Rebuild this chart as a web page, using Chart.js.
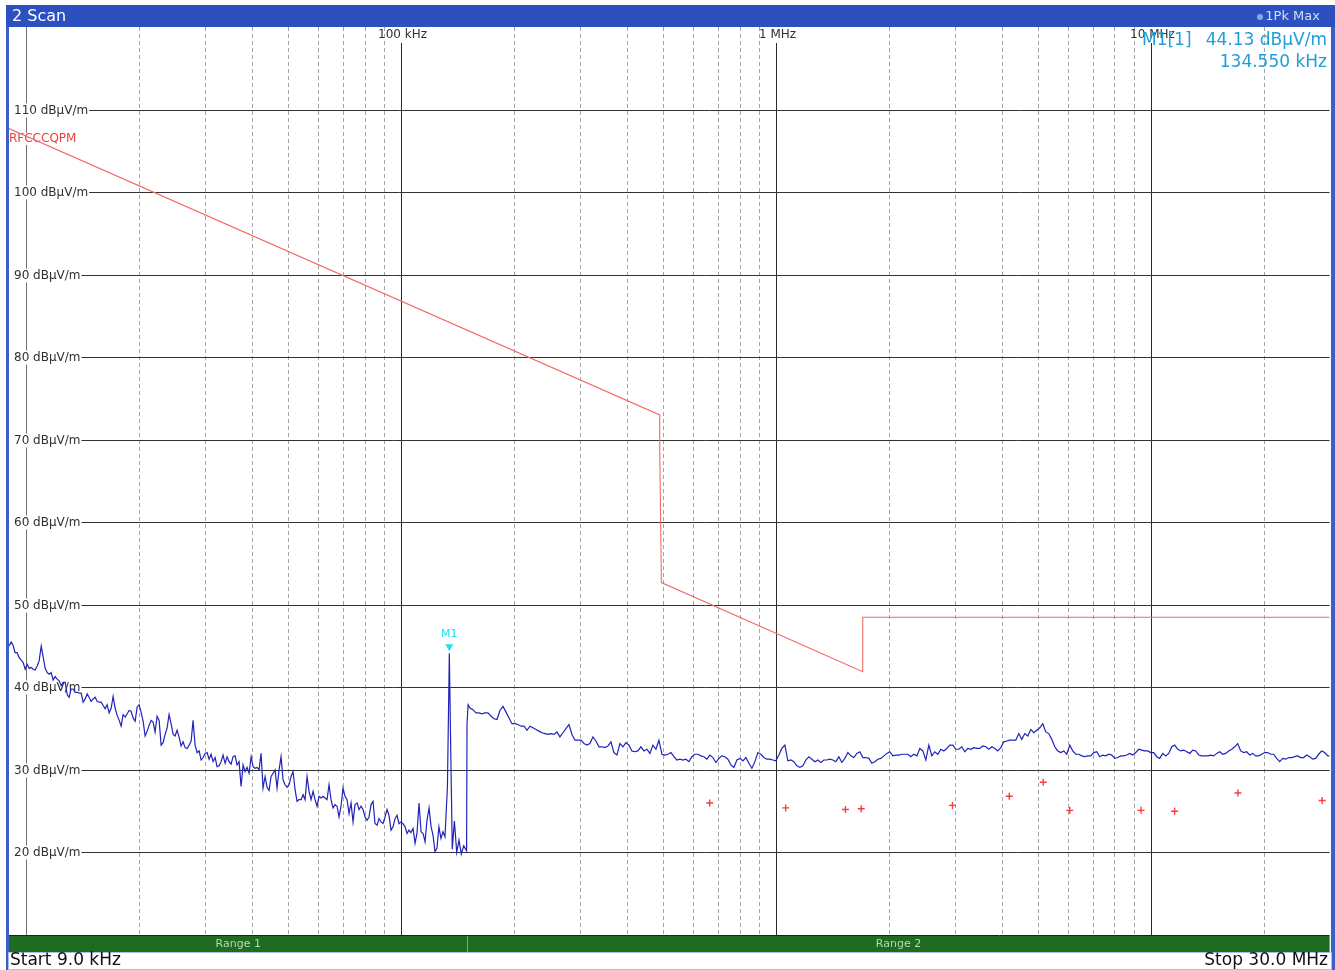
<!DOCTYPE html>
<html>
<head>
<meta charset="utf-8">
<script src="https://cdn.jsdelivr.net/npm/chart.js@4/dist/chart.umd.min.js"></script>
<style>
  html, body { margin: 0; padding: 0; background: #ffffff; }
  canvas { display: block; }
</style>
</head>
<body>
<canvas id="scan" width="1335" height="970"></canvas>
<script>
// ---- Range 1 (9 kHz .. 150 kHz): frequency in kHz, level in dBµV/m ----
const range1Freq = [
  9.01, 9.12, 9.23, 9.34, 9.46, 9.58, 9.70, 9.82, 9.94, 10.06,
  10.19, 10.32, 10.44, 10.57, 10.70, 10.83, 10.97, 11.10, 11.24, 11.38,
  11.52, 11.66, 11.80, 11.95, 12.10, 12.25, 12.40, 12.55, 12.71, 12.87,
  13.02, 13.18, 13.35, 13.51, 13.68, 13.85, 14.02, 14.19, 14.37, 14.55,
  14.72, 14.90, 15.09, 15.28, 15.47, 15.66, 15.85, 16.05, 16.24, 16.44,
  16.65, 16.86, 17.06, 17.27, 17.49, 17.71, 17.92, 18.14, 18.37, 18.60,
  18.82, 19.05, 19.29, 19.53, 19.77, 20.01, 20.26, 20.51, 20.77, 21.03,
  21.28, 21.54, 21.81, 22.08, 22.35, 22.63, 22.91, 23.19, 23.48, 23.77,
  24.06, 24.36, 24.66, 24.96, 25.27, 25.58, 25.90, 26.22, 26.55, 26.88,
  27.21, 27.55, 27.88, 28.22, 28.58, 28.93, 29.29, 29.65, 30.02, 30.39,
  30.76, 31.14, 31.53, 31.92, 32.31, 32.71, 33.11, 33.52, 33.94, 34.36,
  34.78, 35.21, 35.65, 36.09, 36.53, 36.98, 37.44, 37.90, 38.37, 38.84,
  39.33, 39.82, 40.30, 40.80, 41.31, 41.82, 42.33, 42.85, 43.39, 43.93,
  44.46, 45.01, 45.57, 46.13, 46.70, 47.28, 47.86, 48.45, 49.05, 49.66,
  50.27, 50.89, 51.52, 52.16, 52.80, 53.45, 54.12, 54.79, 55.46, 56.15,
  56.84, 57.54, 58.26, 58.98, 59.70, 60.44, 61.19, 61.95, 62.71, 63.48,
  64.27, 65.06, 65.87, 66.68, 67.51, 68.34, 69.18, 70.03, 70.90, 71.78,
  72.67, 73.57, 74.47, 75.39, 76.33, 77.27, 78.22, 79.19, 80.17, 81.16,
  82.16, 83.18, 84.21, 85.25, 86.30, 87.37, 88.45, 89.54, 90.64, 91.76,
  92.90, 94.05, 95.21, 96.39, 97.58, 98.79, 100.0, 101.2, 102.5, 103.8,
  105.0, 106.3, 107.7, 109.0, 110.3, 111.7, 113.1, 114.5, 115.9, 117.3,
  118.8, 120.3, 121.7, 123.2, 124.7, 126.2, 127.8, 129.4, 131.0,
  133.0, 134.55, 135.6, 137.0, 138.8, 140.8, 142.8, 144.8, 147.0, 149.6
];
const range1Level = [
  45.0, 45.5, 45.1, 44.2, 44.2, 43.6, 43.3, 43.0, 42.2, 42.8,
  42.3, 42.4, 42.2, 42.1, 42.6, 43.2, 45.0, 43.7, 42.3, 41.8,
  41.6, 41.8, 40.9, 41.3, 41.0, 40.8, 40.2, 40.6, 40.6, 39.1,
  38.8, 39.8, 39.8, 39.4, 39.4, 39.3, 39.3, 38.2, 38.6, 39.2,
  38.8, 38.3, 38.6, 38.8, 38.3, 38.2, 38.2, 37.8, 37.4, 37.9,
  36.9, 37.5, 38.9, 37.5, 36.6, 36.0, 35.3, 36.7, 36.4, 36.8,
  37.2, 37.1, 36.3, 35.9, 37.6, 37.9, 37.0, 35.9, 34.1, 34.7,
  35.4, 36.0, 35.8, 34.6, 36.5, 36.0, 33.0, 33.3, 34.3, 35.1,
  36.7, 35.6, 34.3, 34.1, 34.8, 34.0, 32.9, 33.4, 32.7, 32.6,
  33.0, 33.5, 36.0, 33.0, 32.1, 32.3, 31.2, 31.5, 32.0, 32.1,
  31.3, 31.9, 31.0, 31.5, 30.4, 30.5, 31.0, 31.8, 30.8, 31.6,
  31.0, 30.7, 31.6, 31.7, 30.6, 31.0, 28.0, 30.6, 29.8, 30.3,
  29.6, 31.6, 30.4, 30.2, 30.3, 30.0, 32.0, 27.8, 29.2, 27.9,
  27.5, 29.2, 29.6, 30.0, 27.8, 30.0, 31.6, 28.8, 28.2, 27.9,
  28.2, 29.2, 29.8, 27.6, 26.2, 26.4, 26.4, 27.0, 26.4, 29.2,
  27.4, 26.4, 27.4, 26.4, 25.6, 26.8, 26.6, 26.8, 26.6, 26.4,
  28.2, 26.4, 25.4, 25.8, 25.6, 24.3, 25.6, 27.8, 26.8, 26.4,
  24.7, 26.0, 23.7, 25.8, 26.0, 25.2, 25.6, 25.2, 24.3, 23.9,
  24.3, 25.8, 26.2, 23.5, 23.3, 24.1, 23.7, 23.5, 24.3, 25.2,
  24.5, 22.7, 23.1, 24.1, 24.5, 23.5, 23.7, 23.5, 23.1, 22.3,
  22.7, 22.4, 22.9, 21.1, 22.3, 26.0, 22.5, 22.3, 21.3, 23.9,
  25.4, 23.1, 22.1, 20.1, 20.5, 23.1, 21.7, 22.5, 21.9,
  28.0, 44.13, 33.5, 20.4, 23.8, 20.0, 21.5, 19.8, 20.8, 20.2
];

// ---- Range 2 (150 kHz .. 30 MHz) ----
const range2Freq = [
  150.0, 151.0, 152.8, 155.6, 158.5, 161.5, 164.5, 167.5, 170.6, 173.8,
  177.0, 180.3, 183.6, 187.1, 190.6, 194.1, 197.7, 201.4, 205.1, 209.0,
  212.9, 216.8, 220.8, 224.9, 229.1, 233.4, 237.7, 242.2, 246.7, 251.2,
  255.9, 260.6, 265.4, 270.4, 275.4, 280.6, 285.8, 291.1, 296.5, 302.0,
  307.6, 313.3, 319.1, 325.1, 331.1, 337.3, 343.6, 350.0, 356.5, 363.1,
  369.8, 376.7, 383.7, 390.8, 398.1, 405.5, 413.0, 420.7, 428.5, 436.5,
  444.6, 452.9, 461.3, 469.9, 478.6, 487.5, 496.6, 505.8, 515.2, 524.8,
  534.6, 544.5, 554.6, 564.9, 575.4, 586.1, 597.0, 608.1, 619.4, 631.0,
  642.7, 654.6, 666.8, 679.2, 691.8, 704.7, 717.8, 731.1, 744.7, 758.6,
  772.7, 787.0, 801.6, 816.6, 831.8, 847.2, 863.0, 879.0, 895.3, 912.0,
  929.0, 946.2, 963.8, 981.7, 999.9, 1018.5, 1037.4, 1056.8, 1076.4, 1096.5,
  1116.9, 1137.6, 1158.7, 1180.3, 1202.2, 1224.6, 1247.4, 1270.6, 1294.2, 1318.3,
  1342.8, 1367.7, 1393.1, 1419.1, 1445.5, 1472.3, 1499.7, 1527.6, 1556.0, 1584.9,
  1614.4, 1644.4, 1675.0, 1706.1, 1737.8, 1770.1, 1803.0, 1836.5, 1870.6, 1905.5,
  1940.9, 1977.0, 2013.8, 2051.2, 2089.3, 2128.1, 2167.7, 2208.0, 2249.0, 2290.9,
  2333.5, 2376.9, 2421.1, 2466.0, 2511.8, 2558.6, 2606.2, 2654.6, 2704.0, 2754.2,
  2805.4, 2857.6, 2910.7, 2964.8, 3019.9, 3076.1, 3133.3, 3191.5, 3250.8, 3311.3,
  3372.9, 3435.6, 3499.5, 3564.5, 3630.8, 3698.3, 3767.1, 3837.1, 3908.4, 3981.1,
  4055.1, 4130.5, 4207.3, 4285.5, 4365.2, 4446.3, 4529.0, 4613.2, 4699.0, 4786.3,
  4875.3, 4966.0, 5058.3, 5152.3, 5248.1, 5345.7, 5445.1, 5546.3, 5649.4, 5754.4,
  5861.4, 5970.4, 6081.4, 6194.4, 6309.6, 6426.9, 6546.4, 6668.1, 6792.1, 6918.3,
  7046.9, 7177.9, 7311.3, 7447.3, 7585.8, 7726.8, 7870.5, 8016.8, 8165.8, 8317.6,
  8472.2, 8629.8, 8790.2, 8953.6, 9120.1, 9289.7, 9462.4, 9638.3, 9817.5, 10000,
  10186, 10375, 10568, 10765, 10965, 11169, 11377, 11588, 11803, 12023,
  12247, 12474, 12706, 12942, 13183, 13428, 13678, 13932, 14191, 14454,
  14723, 14997, 15276, 15560, 15849, 16144, 16444, 16749, 17060, 17378,
  17701, 18030, 18365, 18707, 19055, 19409, 19770, 20137, 20511, 20893,
  21281, 21677, 22080, 22491, 22909, 23335, 23769, 24210, 24660, 25119,
  25586, 26062, 26547, 27040, 27543, 28054, 28576, 29107, 29648, 30000
];
const range2Level = [
  35.6, 37.9, 37.5, 37.3, 36.9, 36.9, 36.8, 36.9, 36.9, 36.5,
  36.2, 36.1, 37.2, 37.7, 37.0, 36.3, 35.6, 35.6, 35.5, 35.3,
  35.3, 34.8, 35.3, 35.1, 34.9, 34.7, 34.5, 34.4, 34.3, 34.4,
  34.3, 34.6, 34.0, 34.5, 35.0, 35.5, 34.3, 33.6, 33.6, 33.6,
  33.2, 33.0, 33.2, 34.0, 33.5, 32.8, 32.8, 32.7, 32.9, 33.4,
  32.1, 31.8, 33.2, 32.8, 33.3, 33.0, 32.3, 32.2, 32.3, 32.8,
  32.3, 32.5, 32.0, 33.0, 32.5, 33.6, 31.9, 31.8, 31.9, 32.1,
  31.6, 31.2, 31.3, 31.2, 31.3, 31.0, 31.6, 31.9, 31.9, 31.7,
  31.6, 31.3, 31.8, 31.5, 30.9, 31.4, 31.7, 31.6, 31.3, 30.6,
  30.3, 31.2, 31.4, 31.1, 31.5, 30.8, 30.2, 31.0, 32.1, 31.9,
  31.5, 31.3, 31.3, 31.2, 31.1, 31.8, 32.6, 33.0, 31.1, 31.2,
  31.0, 30.5, 30.3, 30.5, 31.2, 31.6, 31.3, 31.0, 31.2, 30.9,
  31.2, 31.2, 31.3, 31.2, 31.0, 31.6, 30.9, 31.4, 32.1, 31.7,
  31.5, 32.0, 32.2, 31.5, 31.5, 31.4, 30.8, 31.0, 31.3, 31.4,
  31.7, 32.0, 32.2, 31.7, 31.8, 31.8, 31.9, 31.9, 31.9, 31.6,
  31.9, 31.7, 32.6, 32.3, 31.2, 33.0, 31.7, 32.2, 31.9, 32.5,
  32.3, 32.6, 33.0, 33.0, 32.5, 32.5, 32.8, 32.2, 32.6, 32.5,
  32.7, 32.6, 32.6, 32.9, 32.8, 32.5, 32.8, 32.6, 32.3, 32.7,
  33.4, 33.5, 33.6, 33.6, 33.6, 34.4, 33.7, 34.4, 34.1, 34.9,
  34.5, 34.8, 35.1, 35.6, 34.6, 34.4, 33.7, 32.8, 32.3, 32.1,
  32.3, 31.9, 33.0, 32.3, 31.9, 31.9, 31.7, 31.6, 31.7, 31.7,
  32.1, 32.2, 31.6, 31.8, 31.7, 31.9, 31.8, 31.4, 31.5, 31.7,
  31.7, 31.8, 32.0, 31.8, 32.1, 32.5, 32.4, 32.3, 32.3, 32.1,
  32.1, 31.6, 31.4, 32.0, 31.7, 32.0, 32.8, 33.0, 32.5, 32.3,
  32.4, 32.2, 32.0, 32.4, 32.3, 31.8, 31.7, 31.7, 31.7, 31.8,
  31.7, 32.0, 32.2, 31.9, 32.0, 32.3, 32.5, 32.8, 33.2, 32.3,
  32.1, 32.2, 31.8, 32.0, 31.7, 31.7, 31.9, 32.1, 32.1, 31.9,
  31.9, 31.4, 31.0, 31.4, 31.3, 31.5, 31.5, 31.6, 31.7, 31.5,
  31.5, 31.8, 31.6, 31.3, 31.4, 31.9, 32.3, 32.1, 31.7, 31.7
];

// ---- Limit line RFCCCQPM ----
const limitFreq  = [9, 490, 490, 495, 1705, 1705, 30000];
const limitLevel = [107.7, 73.0, 68.8, 52.7, 41.9, 48.5, 48.5];

// ---- Final measurement points ----
const finalFreq  = [666, 1062, 1533, 1689, 2958, 4194, 5166, 6081, 9420, 11580, 17080, 28660];
const finalLevel = [26.0, 25.4, 25.2, 25.3, 25.7, 26.8, 28.5, 25.1, 25.1, 25.0, 27.2, 26.3];

// ---- Marker ----
const markerFreq = 134.55;
const markerLevel = 44.13;

// ---- Axis labelling ----
const levelTicks = [20, 30, 40, 50, 60, 70, 80, 90, 100, 110];
const decadeFreqs = [10, 100, 1000, 10000];
const decadeLabels = ['', '100 kHz', '1 MHz', '10 MHz'];
const minorFreqs = [20, 30, 40, 50, 60, 70, 80, 90,
                    200, 300, 400, 500, 600, 700, 800, 900,
                    2000, 3000, 4000, 5000, 6000, 7000, 8000, 9000,
                    20000];

const toPoints = (fs, ls) => fs.map((f, i) => ({ x: f, y: ls[i] }));
const traceData = toPoints(range1Freq, range1Level).concat(toPoints(range2Freq, range2Level));

const FONT = '"DejaVu Sans", Verdana, sans-serif';

const screenPlugin = {
  id: 'screen',
  beforeDraw(chart) {
    const c = chart.ctx;
    c.save();
    c.fillStyle = '#ffffff';
    c.fillRect(0, 0, chart.width, chart.height);
    c.restore();
  },
  beforeDatasetsDraw(chart) {
    const c = chart.ctx;
    const a = chart.chartArea;
    const xs = chart.scales.x, ys = chart.scales.y;
    c.save();

    // dashed minor frequency lines
    c.strokeStyle = '#a4a4a4';
    c.lineWidth = 1;
    c.setLineDash([4, 3]);
    minorFreqs.forEach(f => {
      const px = Math.round(xs.getPixelForValue(f)) + 0.5;
      c.beginPath(); c.moveTo(px, a.top); c.lineTo(px, a.bottom); c.stroke();
    });
    c.setLineDash([]);

    // decade lines with labels on top
    c.font = '12px ' + FONT;
    c.textBaseline = 'middle';
    c.textAlign = 'center';
    decadeFreqs.forEach((f, i) => {
      const px = Math.round(xs.getPixelForValue(f)) + 0.5;
      const label = decadeLabels[i];
      c.strokeStyle = label ? '#2a2a2a' : '#707070';
      c.beginPath();
      c.moveTo(px, label ? a.top + 16 : a.top);
      c.lineTo(px, a.bottom);
      c.stroke();
      if (label) {
        c.fillStyle = '#303030';
        c.fillText(label, px + 1, a.top + 8);
      }
    });

    // level lines with labels on the left
    c.textAlign = 'left';
    levelTicks.forEach(v => {
      const py = Math.round(ys.getPixelForValue(v)) + 0.5;
      const label = v + ' dB\u00b5V/m';
      const w = c.measureText(label).width;
      c.fillStyle = '#ffffff';
      c.fillRect(a.left + 3, py - 7, w + 4, 14);
      c.fillStyle = '#303030';
      c.fillText(label, a.left + 5, py);
      c.strokeStyle = '#333333';
      c.beginPath(); c.moveTo(a.left + 6 + w, py); c.lineTo(a.right, py); c.stroke();
    });

    // limit line name
    const ln = 'RFCCCQPM';
    const lw = c.measureText(ln).width;
    c.fillStyle = '#ffffff';
    c.fillRect(a.left, 133, lw + 1, 12);
    c.fillStyle = '#e8403c';
    c.fillText(ln, a.left, 139);
    c.restore();
  },
  afterDraw(chart) {
    const c = chart.ctx;
    const a = chart.chartArea;
    const xs = chart.scales.x, ys = chart.scales.y;
    c.save();

    // marker M1
    const mx = xs.getPixelForValue(markerFreq);
    const my = ys.getPixelForValue(markerLevel);
    c.fillStyle = '#22dcf0';
    c.beginPath();
    c.moveTo(mx - 4, my - 9); c.lineTo(mx + 4, my - 9); c.lineTo(mx, my - 2);
    c.closePath(); c.fill();
    c.font = '11px ' + FONT;
    c.textAlign = 'center'; c.textBaseline = 'middle';
    c.fillText('M1', mx, my - 19);

    // marker readout
    c.fillStyle = '#1e9fd8';
    c.font = '17px ' + FONT;
    c.textAlign = 'left';
    c.fillText('M1[1]', 1142, 41);
    c.textAlign = 'right';
    c.fillText('44.13 dB\u00b5V/m', 1327, 41);
    c.fillText('134.550 kHz', 1327, 63);

    // title bar
    c.fillStyle = '#2c50c0';
    c.fillRect(6, 5, 1329, 22);
    c.fillStyle = '#ffffff';
    c.font = '16px ' + FONT;
    c.textAlign = 'left';
    c.fillText('2 Scan', 12, 17);
    c.fillStyle = '#d4def5';
    c.font = '13px ' + FONT;
    c.textAlign = 'right';
    c.fillText('1Pk Max', 1320, 17);
    c.fillStyle = '#86a8ee';
    c.beginPath(); c.arc(1260, 17, 3, 0, Math.PI * 2); c.fill();

    // side borders
    c.fillStyle = '#3a5fc6';
    c.fillRect(6, 27, 3, 943);
    c.fillRect(1331, 27, 4, 943);

    // range bar
    c.fillStyle = '#1f6b1f';
    c.fillRect(a.left, a.bottom + 1, a.right - a.left, 16);
    c.strokeStyle = '#202020';
    c.beginPath(); c.moveTo(a.left, a.bottom + 0.5); c.lineTo(a.right, a.bottom + 0.5); c.stroke();
    const splitX = Math.round(xs.getPixelForValue(150)) + 0.5;
    c.strokeStyle = '#7fa87f';
    c.beginPath(); c.moveTo(splitX, a.bottom + 1); c.lineTo(splitX, a.bottom + 17); c.stroke();
    c.fillStyle = '#b9d6b3';
    c.font = '11px ' + FONT;
    c.textAlign = 'center';
    c.fillText('Range 1', (a.left + splitX) / 2, a.bottom + 9);
    c.fillText('Range 2', (splitX + a.right) / 2, a.bottom + 9);

    // start / stop line
    c.strokeStyle = '#a9bfe6';
    c.strokeRect(8.5, a.bottom + 17.5, 1323, 17);
    c.fillStyle = '#101010';
    c.font = '17px ' + FONT;
    c.textAlign = 'left';
    c.fillText('Start 9.0 kHz', 10, a.bottom + 26);
    c.textAlign = 'right';
    c.fillText('Stop 30.0 MHz', 1328, a.bottom + 26);
    c.restore();
  }
};

new Chart(document.getElementById('scan').getContext('2d'), {
  type: 'scatter',
  data: {
    datasets: [
      {
        label: '1Pk Max',
        data: traceData,
        showLine: true,
        borderColor: '#2222b8',
        borderWidth: 1.2,
        pointRadius: 0
      },
      {
        label: 'RFCCCQPM',
        data: toPoints(limitFreq, limitLevel),
        showLine: true,
        borderColor: '#f26a66',
        borderWidth: 1.1,
        pointRadius: 0
      },
      {
        label: 'Final',
        data: toPoints(finalFreq, finalLevel),
        showLine: false,
        pointStyle: 'cross',
        pointRadius: 3.5,
        borderColor: '#ff3a3a',
        borderWidth: 1.4
      }
    ]
  },
  options: {
    responsive: false,
    animation: false,
    devicePixelRatio: 1,
    layout: { padding: { left: 9, right: 5, top: 27, bottom: 35 } },
    elements: { line: { tension: 0 } },
    plugins: { legend: { display: false }, tooltip: { enabled: false } },
    scales: {
      x: { type: 'logarithmic', min: 9, max: 30000, display: false },
      y: { type: 'linear', min: 10, max: 120, display: false }
    }
  },
  plugins: [screenPlugin]
});
</script>
</body>
</html>
